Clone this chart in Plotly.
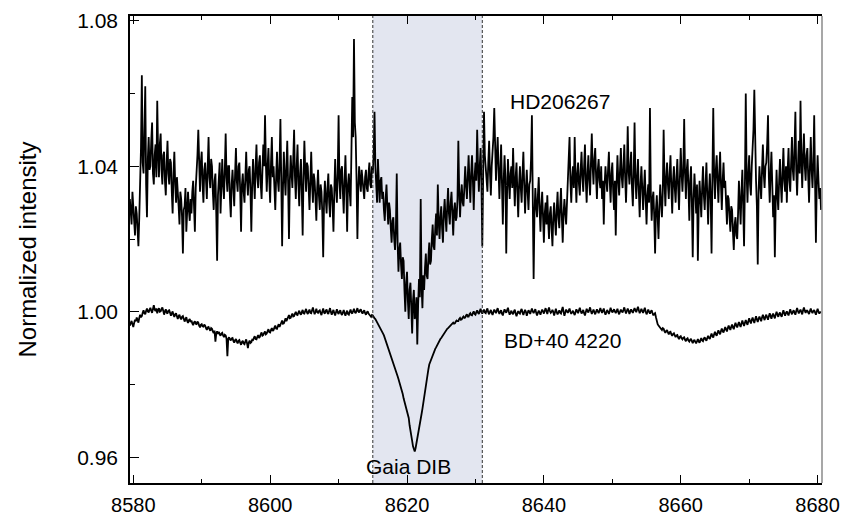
import numpy as np
import plotly.graph_objects as go

# wavelength grid (Angstrom), 0.125 A sampling
wave_start = 8579.5
wave_step = 0.125

# HD206267 normalized intensity, 8 samples per Angstrom starting at 8579.5
hd206267 = [
    1.031, 1.027, 1.024, 1.033, 1.030, 1.025, 1.021, 1.029,
    1.027, 1.022, 1.018, 1.026, 1.034, 1.045, 1.065, 1.041,
    1.038, 1.049, 1.062, 1.035, 1.026, 1.042, 1.048, 1.039,
    1.040, 1.047, 1.052, 1.038, 1.035, 1.043, 1.046, 1.037,
    1.058, 1.044, 1.037, 1.046, 1.049, 1.039, 1.035, 1.043,
    1.044, 1.036, 1.032, 1.041, 1.047, 1.038, 1.035, 1.042,
    1.041, 1.033, 1.027, 1.038, 1.044, 1.035, 1.030, 1.037,
    1.034, 1.029, 1.024, 1.033, 1.031, 1.026, 1.016, 1.028,
    1.029, 1.034, 1.022, 1.027, 1.033, 1.028, 1.025, 1.031,
    1.027, 1.033, 1.036, 1.029, 1.022, 1.034, 1.038, 1.043,
    1.050, 1.038, 1.033, 1.041, 1.044, 1.035, 1.030, 1.039,
    1.041, 1.036, 1.031, 1.040, 1.048, 1.037, 1.034, 1.042,
    1.040, 1.033, 1.028, 1.036, 1.038, 1.027, 1.014, 1.032,
    1.036, 1.041, 1.027, 1.034, 1.042, 1.035, 1.031, 1.039,
    1.049, 1.037, 1.033, 1.040, 1.040, 1.031, 1.026, 1.035,
    1.039, 1.034, 1.029, 1.038, 1.045, 1.036, 1.033, 1.040,
    1.041, 1.033, 1.022, 1.035, 1.038, 1.033, 1.030, 1.037,
    1.044, 1.036, 1.032, 1.039, 1.040, 1.033, 1.022, 1.035,
    1.042, 1.036, 1.031, 1.040, 1.046, 1.037, 1.034, 1.041,
    1.043, 1.035, 1.031, 1.039, 1.046, 1.040, 1.054, 1.041,
    1.033, 1.040, 1.045, 1.036, 1.030, 1.041, 1.048, 1.037,
    1.040, 1.034, 1.028, 1.037, 1.044, 1.036, 1.033, 1.041,
    1.053, 1.036, 1.018, 1.034, 1.044, 1.037, 1.032, 1.040,
    1.047, 1.035, 1.020, 1.036, 1.043, 1.038, 1.034, 1.042,
    1.050, 1.037, 1.031, 1.040, 1.046, 1.035, 1.029, 1.038,
    1.042, 1.033, 1.021, 1.037, 1.047, 1.039, 1.033, 1.041,
    1.040, 1.034, 1.028, 1.036, 1.044, 1.035, 1.030, 1.038,
    1.036, 1.031, 1.025, 1.034, 1.039, 1.032, 1.028, 1.035,
    1.033, 1.027, 1.015, 1.030, 1.036, 1.031, 1.027, 1.034,
    1.038, 1.030, 1.026, 1.035, 1.034, 1.029, 1.022, 1.033,
    1.042, 1.034, 1.030, 1.038, 1.054, 1.036, 1.031, 1.039,
    1.040, 1.033, 1.027, 1.036, 1.043, 1.034, 1.022, 1.035,
    1.038, 1.033, 1.029, 1.044, 1.059, 1.048, 1.075, 1.052,
    1.048, 1.036, 1.020, 1.034, 1.040, 1.036, 1.033, 1.039,
    1.036, 1.032, 1.031, 1.037, 1.039, 1.034, 1.033, 1.038,
    1.041, 1.035, 1.034, 1.040, 1.038, 1.043, 1.055, 1.040,
    1.036, 1.030, 1.042, 1.034, 1.030, 1.036, 1.037, 1.031,
    1.033, 1.028, 1.025, 1.031, 1.035, 1.029, 1.024, 1.030,
    1.028, 1.023, 1.019, 1.025, 1.026, 1.020, 1.017, 1.023,
    1.038, 1.019, 1.011, 1.017, 1.019, 1.013, 1.009, 1.015,
    1.014, 1.006, 1.000, 1.008, 1.011, 1.003, 0.998, 1.006,
    1.008, 1.001, 0.994, 1.003, 1.006, 0.998, 0.999, 1.004,
    0.991, 1.002, 1.009, 1.004, 1.031, 1.007, 1.001, 1.010,
    1.006, 1.012, 1.016, 1.010, 1.009, 1.015, 1.019, 1.013,
    1.014, 1.020, 1.024, 1.018, 1.017, 1.023, 1.027, 1.021,
    1.035, 1.025, 1.020, 1.026, 1.029, 1.023, 1.019, 1.027,
    1.031, 1.026, 1.022, 1.029, 1.034, 1.027, 1.024, 1.030,
    1.033, 1.027, 1.021, 1.028, 1.030, 1.025, 1.026, 1.031,
    1.047, 1.033, 1.026, 1.032, 1.035, 1.030, 1.029, 1.034,
    1.040, 1.035, 1.031, 1.037, 1.043, 1.036, 1.030, 1.038,
    1.043, 1.036, 1.028, 1.037, 1.041, 1.036, 1.050, 1.040,
    1.033, 1.040, 1.045, 1.036, 1.018, 1.037, 1.055, 1.043,
    1.040, 1.036, 1.033, 1.041, 1.047, 1.038, 1.032, 1.040,
    1.044, 1.048, 1.056, 1.042, 1.036, 1.043, 1.048, 1.039,
    1.031, 1.039, 1.046, 1.035, 1.024, 1.036, 1.043, 1.037,
    1.016, 1.033, 1.042, 1.036, 1.031, 1.038, 1.040, 1.034,
    1.045, 1.036, 1.029, 1.037, 1.041, 1.033, 1.026, 1.035,
    1.040, 1.034, 1.030, 1.038, 1.044, 1.035, 1.027, 1.034,
    1.039, 1.033, 1.028, 1.035, 1.036, 1.042, 1.054, 1.031,
    1.009, 1.027, 1.034, 1.029, 1.026, 1.032, 1.037, 1.028,
    1.022, 1.029, 1.033, 1.026, 1.019, 1.027, 1.030, 1.024,
    1.032, 1.025, 1.020, 1.027, 1.029, 1.023, 1.018, 1.026,
    1.030, 1.025, 1.021, 1.028, 1.033, 1.026, 1.023, 1.029,
    1.034, 1.026, 1.019, 1.027, 1.031, 1.027, 1.024, 1.030,
    1.036, 1.041, 1.048, 1.036, 1.030, 1.037, 1.040, 1.034,
    1.048, 1.037, 1.030, 1.038, 1.041, 1.035, 1.032, 1.039,
    1.044, 1.037, 1.033, 1.040, 1.046, 1.036, 1.030, 1.038,
    1.043, 1.036, 1.032, 1.041, 1.049, 1.040, 1.035, 1.042,
    1.045, 1.037, 1.031, 1.039, 1.042, 1.036, 1.034, 1.040,
    1.031, 1.036, 1.024, 1.035, 1.040, 1.036, 1.033, 1.039,
    1.044, 1.036, 1.030, 1.038, 1.041, 1.033, 1.028, 1.036,
    1.021, 1.035, 1.043, 1.036, 1.032, 1.039, 1.045, 1.037,
    1.034, 1.040, 1.046, 1.037, 1.030, 1.038, 1.051, 1.039,
    1.035, 1.040, 1.044, 1.034, 1.029, 1.038, 1.052, 1.037,
    1.031, 1.037, 1.042, 1.033, 1.026, 1.035, 1.040, 1.034,
    1.028, 1.034, 1.039, 1.031, 1.024, 1.032, 1.035, 1.030,
    1.056, 1.033, 1.025, 1.031, 1.033, 1.026, 1.016, 1.028,
    1.032, 1.026, 1.020, 1.029, 1.035, 1.030, 1.026, 1.033,
    1.050, 1.036, 1.029, 1.037, 1.041, 1.035, 1.031, 1.038,
    1.043, 1.034, 1.027, 1.036, 1.040, 1.034, 1.030, 1.037,
    1.042, 1.034, 1.028, 1.037, 1.045, 1.038, 1.033, 1.039,
    1.053, 1.038, 1.031, 1.039, 1.042, 1.034, 1.025, 1.036,
    1.040, 1.030, 1.015, 1.031, 1.038, 1.033, 1.027, 1.035,
    1.014, 1.029, 1.036, 1.031, 1.026, 1.034, 1.040, 1.032,
    1.028, 1.035, 1.041, 1.032, 1.024, 1.033, 1.038, 1.031,
    1.016, 1.037, 1.056, 1.038, 1.031, 1.039, 1.043, 1.036,
    1.030, 1.038, 1.044, 1.035, 1.028, 1.036, 1.041, 1.034,
    1.036, 1.030, 1.024, 1.032, 1.031, 1.026, 1.022, 1.029,
    1.028, 1.022, 1.017, 1.024, 1.026, 1.021, 1.020, 1.027,
    1.036, 1.030, 1.024, 1.033, 1.039, 1.029, 1.018, 1.035,
    1.060, 1.038, 1.030, 1.038, 1.043, 1.035, 1.032, 1.040,
    1.044, 1.050, 1.061, 1.041, 1.036, 1.029, 1.013, 1.033,
    1.040, 1.035, 1.031, 1.039, 1.046, 1.038, 1.034, 1.040,
    1.041, 1.046, 1.054, 1.037, 1.030, 1.038, 1.044, 1.035,
    1.026, 1.032, 1.015, 1.030, 1.039, 1.032, 1.028, 1.036,
    1.042, 1.035, 1.030, 1.038, 1.045, 1.036, 1.033, 1.040,
    1.030, 1.039, 1.045, 1.036, 1.033, 1.041, 1.048, 1.039,
    1.036, 1.045, 1.055, 1.039, 1.032, 1.040, 1.047, 1.038,
    1.058, 1.042, 1.034, 1.043, 1.049, 1.040, 1.036, 1.043,
    1.045, 1.037, 1.030, 1.040, 1.048, 1.039, 1.034, 1.041,
    1.054, 1.036, 1.019, 1.035, 1.043, 1.036, 1.031, 1.034,
    1.028,
]

# BD+40 4220 normalized intensity, same grid
bd404220 = [
    0.9962, 0.9970, 0.9975, 0.9966, 0.9958, 0.9969, 0.9978, 0.9974,
    0.9984, 0.9978, 0.9970, 0.9983, 0.9992, 0.9985, 0.9988, 0.9997,
    1.0004, 0.9996, 0.9993, 1.0003, 1.0009, 1.0001, 0.9998, 1.0006,
    1.0011, 1.0003, 0.9997, 1.0008, 1.0018, 1.0006, 1.0002, 1.0009,
    0.9996, 1.0005, 1.0010, 1.0000, 1.0001, 1.0008, 1.0012, 1.0003,
    0.9992, 1.0001, 1.0007, 0.9998, 0.9995, 1.0003, 1.0004, 0.9997,
    0.9989, 0.9996, 1.0001, 0.9991, 0.9986, 0.9993, 0.9996, 0.9988,
    0.9980, 0.9988, 0.9992, 0.9983, 0.9979, 0.9986, 0.9988, 0.9981,
    0.9973, 0.9980, 0.9985, 0.9975, 0.9969, 0.9977, 0.9980, 0.9972,
    0.9976, 0.9968, 0.9963, 0.9971, 0.9974, 0.9967, 0.9966, 0.9973,
    0.9970, 0.9962, 0.9957, 0.9964, 0.9966, 0.9960, 0.9959, 0.9965,
    0.9962, 0.9955, 0.9950, 0.9957, 0.9958, 0.9952, 0.9948, 0.9955,
    0.9953, 0.9946, 0.9941, 0.9948, 0.9918, 0.9940, 0.9946, 0.9939,
    0.9945, 0.9938, 0.9934, 0.9940, 0.9942, 0.9935, 0.9930, 0.9937,
    0.9935, 0.9926, 0.9878, 0.9925, 0.9930, 0.9924, 0.9921, 0.9927,
    0.9928, 0.9920, 0.9915, 0.9922, 0.9925, 0.9918, 0.9913, 0.9920,
    0.9922, 0.9915, 0.9909, 0.9917, 0.9920, 0.9913, 0.9911, 0.9918,
    0.9924, 0.9913, 0.9900, 0.9915, 0.9921, 0.9914, 0.9916, 0.9923,
    0.9922, 0.9928, 0.9933, 0.9925, 0.9924, 0.9931, 0.9936, 0.9928,
    0.9931, 0.9938, 0.9943, 0.9934, 0.9936, 0.9942, 0.9946, 0.9938,
    0.9940, 0.9947, 0.9952, 0.9944, 0.9943, 0.9950, 0.9955, 0.9947,
    0.9950, 0.9957, 0.9962, 0.9954, 0.9953, 0.9960, 0.9966, 0.9958,
    0.9963, 0.9970, 0.9976, 0.9967, 0.9968, 0.9975, 0.9982, 0.9974,
    0.9979, 0.9986, 0.9991, 0.9982, 0.9983, 0.9990, 0.9995, 0.9987,
    0.9988, 0.9995, 1.0000, 0.9992, 0.9991, 0.9998, 1.0003, 0.9995,
    0.9992, 0.9999, 1.0005, 0.9996, 0.9995, 1.0002, 1.0008, 0.9998,
    0.9994, 1.0001, 1.0006, 0.9997, 0.9996, 1.0004, 1.0012, 1.0001,
    0.9993, 1.0000, 1.0008, 0.9999, 0.9997, 1.0002, 1.0004, 0.9996,
    0.9991, 1.0001, 1.0009, 0.9998, 0.9995, 1.0003, 1.0006, 0.9997,
    0.9994, 1.0003, 1.0010, 0.9999, 0.9992, 1.0000, 1.0005, 0.9996,
    0.9990, 0.9999, 1.0007, 0.9998, 0.9994, 1.0001, 1.0004, 0.9995,
    0.9991, 0.9998, 1.0005, 0.9996, 0.9989, 0.9997, 1.0003, 0.9994,
    0.9992, 1.0000, 1.0006, 0.9998, 0.9995, 1.0002, 1.0008, 0.9999,
    0.9996, 1.0003, 1.0010, 1.0001, 0.9998, 1.0004, 1.0007, 0.9999,
    0.9995, 1.0001, 1.0004, 0.9996, 0.9992, 0.9998, 1.0001, 0.9995,
    0.9993, 0.9989, 0.9986, 0.9991, 0.9990, 0.9985, 0.9982, 0.9980,
    0.9976, 0.9971, 0.9965, 0.9963, 0.9960, 0.9954, 0.9950, 0.9946,
    0.9940, 0.9935, 0.9928, 0.9924, 0.9918, 0.9911, 0.9905, 0.9898,
    0.9890, 0.9884, 0.9876, 0.9870, 0.9862, 0.9857, 0.9850, 0.9840,
    0.9830, 0.9823, 0.9815, 0.9808, 0.9800, 0.9794, 0.9786, 0.9774,
    0.9762, 0.9754, 0.9745, 0.9736, 0.9727, 0.9718, 0.9708, 0.9688,
    0.9668, 0.9656, 0.9645, 0.9630, 0.9618, 0.9616, 0.9625, 0.9637,
    0.9650, 0.9664, 0.9678, 0.9692, 0.9705, 0.9719, 0.9733, 0.9750,
    0.9768, 0.9784, 0.9800, 0.9814, 0.9828, 0.9842, 0.9855, 0.9862,
    0.9868, 0.9876, 0.9882, 0.9888, 0.9893, 0.9898, 0.9902, 0.9907,
    0.9912, 0.9918, 0.9922, 0.9925, 0.9928, 0.9932, 0.9936, 0.9940,
    0.9944, 0.9949, 0.9952, 0.9953, 0.9955, 0.9958, 0.9961, 0.9963,
    0.9965, 0.9968, 0.9970, 0.9967, 0.9968, 0.9973, 0.9976, 0.9974,
    0.9974, 0.9980, 0.9983, 0.9978, 0.9979, 0.9984, 0.9987, 0.9983,
    0.9984, 0.9990, 0.9993, 0.9987, 0.9987, 0.9993, 0.9996, 0.9991,
    0.9990, 0.9997, 1.0001, 0.9994, 0.9992, 0.9999, 1.0004, 0.9997,
    0.9994, 1.0002, 1.0008, 0.9999, 0.9995, 1.0001, 1.0006, 0.9998,
    0.9996, 1.0004, 1.0009, 0.9998, 0.9993, 1.0000, 1.0005, 0.9997,
    0.9991, 0.9999, 1.0006, 1.0001, 0.9996, 1.0004, 1.0010, 1.0000,
    0.9994, 1.0000, 1.0004, 0.9995, 0.9990, 0.9999, 1.0007, 1.0001,
    0.9997, 1.0005, 1.0011, 1.0000, 0.9992, 0.9998, 1.0003, 0.9996,
    0.9993, 1.0001, 1.0006, 0.9995, 0.9988, 0.9996, 1.0002, 0.9997,
    0.9995, 1.0003, 1.0008, 0.9998, 0.9991, 0.9999, 1.0005, 1.0000,
    0.9989, 0.9997, 1.0004, 1.0000, 0.9994, 1.0002, 1.0009, 1.0001,
    0.9996, 1.0002, 1.0007, 0.9997, 0.9990, 0.9997, 1.0003, 0.9998,
    0.9992, 1.0000, 1.0006, 1.0001, 0.9995, 1.0003, 1.0010, 1.0002,
    0.9994, 1.0004, 1.0012, 1.0002, 0.9997, 1.0000, 1.0005, 0.9999,
    0.9990, 0.9999, 1.0008, 0.9999, 0.9993, 0.9998, 1.0004, 0.9997,
    0.9995, 1.0005, 1.0013, 1.0000, 0.9989, 0.9998, 1.0006, 1.0001,
    0.9997, 1.0003, 1.0009, 1.0000, 0.9994, 0.9999, 1.0003, 0.9996,
    0.9991, 0.9999, 1.0007, 1.0001, 0.9996, 1.0004, 1.0011, 1.0002,
    0.9995, 1.0000, 1.0005, 0.9996, 0.9990, 0.9999, 1.0008, 1.0002,
    0.9998, 1.0005, 1.0012, 1.0002, 0.9994, 1.0000, 1.0006, 0.9999,
    0.9993, 1.0000, 1.0007, 1.0001, 0.9996, 1.0003, 1.0010, 1.0003,
    0.9997, 1.0003, 1.0009, 0.9999, 0.9992, 0.9998, 1.0005, 1.0000,
    0.9994, 1.0002, 1.0011, 1.0003, 0.9998, 1.0002, 1.0007, 1.0001,
    0.9996, 1.0002, 1.0008, 0.9999, 0.9993, 1.0000, 1.0006, 1.0001,
    0.9998, 1.0005, 1.0012, 1.0003, 0.9995, 1.0002, 1.0009, 1.0003,
    0.9994, 1.0001, 1.0007, 1.0001, 0.9997, 1.0004, 1.0010, 1.0004,
    0.9999, 1.0007, 1.0014, 1.0004, 0.9996, 1.0002, 1.0008, 1.0002,
    0.9997, 1.0004, 1.0011, 1.0001, 0.9993, 0.9999, 1.0006, 1.0000,
    0.9995, 1.0001, 1.0004, 0.9996, 0.9990, 0.9994, 0.9996, 0.9985,
    0.9970, 0.9966, 0.9962, 0.9958, 0.9956, 0.9952, 0.9950, 0.9955,
    0.9953, 0.9946, 0.9942, 0.9947, 0.9950, 0.9943, 0.9938, 0.9944,
    0.9945, 0.9938, 0.9934, 0.9939, 0.9941, 0.9935, 0.9930, 0.9935,
    0.9936, 0.9929, 0.9925, 0.9931, 0.9933, 0.9927, 0.9924, 0.9929,
    0.9930, 0.9923, 0.9919, 0.9925, 0.9927, 0.9921, 0.9918, 0.9923,
    0.9926, 0.9919, 0.9914, 0.9920, 0.9923, 0.9917, 0.9913, 0.9919,
    0.9925, 0.9918, 0.9915, 0.9922, 0.9928, 0.9921, 0.9919, 0.9926,
    0.9930, 0.9924, 0.9920, 0.9928, 0.9934, 0.9928, 0.9925, 0.9933,
    0.9940, 0.9933, 0.9929, 0.9938, 0.9945, 0.9938, 0.9934, 0.9942,
    0.9949, 0.9942, 0.9938, 0.9947, 0.9954, 0.9947, 0.9943, 0.9951,
    0.9958, 0.9951, 0.9946, 0.9955, 0.9962, 0.9955, 0.9950, 0.9959,
    0.9965, 0.9957, 0.9952, 0.9962, 0.9970, 0.9962, 0.9957, 0.9965,
    0.9972, 0.9964, 0.9958, 0.9968, 0.9976, 0.9968, 0.9961, 0.9970,
    0.9977, 0.9970, 0.9964, 0.9974, 0.9982, 0.9974, 0.9968, 0.9977,
    0.9984, 0.9976, 0.9969, 0.9979, 0.9988, 0.9979, 0.9972, 0.9981,
    0.9987, 0.9980, 0.9974, 0.9984, 0.9992, 0.9984, 0.9977, 0.9986,
    0.9992, 0.9984, 0.9978, 0.9988, 0.9996, 0.9988, 0.9981, 0.9990,
    0.9995, 0.9988, 0.9982, 0.9992, 1.0000, 0.9992, 0.9986, 0.9994,
    0.9998, 0.9991, 0.9986, 0.9996, 1.0004, 0.9996, 0.9989, 0.9997,
    1.0001, 0.9995, 0.9990, 0.9999, 1.0007, 0.9999, 0.9993, 1.0000,
    1.0004, 0.9997, 0.9992, 1.0002, 1.0010, 1.0002, 0.9995, 1.0002,
    1.0006, 0.9999, 0.9993, 1.0004, 1.0012, 1.0003, 0.9997, 1.0003,
    1.0003, 0.9998, 0.9994, 1.0002, 1.0009, 1.0001, 0.9996, 1.0002,
    1.0005, 0.9998, 0.9992, 1.0001, 1.0008, 1.0000, 0.9995, 0.9999,
    0.9998,
]

wave = wave_start + wave_step * np.arange(len(hd206267))
wave_bd = wave_start + wave_step * np.arange(len(bd404220))

# Gaia DIB window
dib_window = [8615.0, 8631.0]

labels = {"hd": "HD206267", "bd": "BD+40 4220", "dib": "Gaia DIB"}
label_pos = {"hd": (8642.4, 1.0579), "bd": (8642.7, 0.9920), "dib": (8620.2, 0.9574)}

FONT = "Liberation Sans, Arial, sans-serif"

fig = go.Figure()
fig.add_trace(go.Scatter(x=wave, y=hd206267, mode="lines",
                         line=dict(color="black", width=1.8), showlegend=False))
fig.add_trace(go.Scatter(x=wave_bd, y=bd404220, mode="lines",
                         line=dict(color="black", width=1.8), showlegend=False))

fig.add_vrect(x0=dib_window[0], x1=dib_window[1], fillcolor="#e3e6f0",
              line_width=0, layer="below")
for xv in dib_window:
    fig.add_shape(type="line", x0=xv, x1=xv, y0=0, y1=1, xref="x", yref="paper",
                  line=dict(color="#333333", width=1, dash="3px,2px"))
# right frame line (grey)
fig.add_shape(type="line", x0=1, x1=1, y0=0, y1=1, xref="paper", yref="paper",
              line=dict(color="#8a8a8a", width=1.5))

for k, txt in labels.items():
    x, y = label_pos[k]
    fig.add_annotation(x=x, y=y, text=txt, showarrow=False,
                       font=dict(family=FONT, size=21, color="black"))

fig.update_layout(
    width=844, height=518,
    margin=dict(l=130, r=22, t=16, b=35),
    paper_bgcolor="white", plot_bgcolor="white",
    font=dict(family=FONT, color="black"),
)
fig.update_xaxes(
    range=[8579.52, 8680.64], tick0=8580, dtick=20,
    showgrid=False, zeroline=False, automargin=False,
    showline=True, linecolor="black", linewidth=1.5, mirror="ticks",
    ticks="inside", ticklen=8, tickwidth=1.2, tickcolor="black",
    tickfont=dict(family=FONT, size=20, color="black"),
    minor=dict(ticks="inside", ticklen=4, tickwidth=1, tickcolor="black", dtick=10, tick0=8580),
    ticklabelstandoff=3,
)
fig.update_yaxes(
    range=[0.95293, 1.0813], tick0=0.96, dtick=0.04, tickformat=".2f",
    showgrid=False, zeroline=False, automargin=False,
    showline=True, linecolor="black", linewidth=1.5,
    ticks="inside", ticklen=9, tickwidth=1.2, tickcolor="black",
    tickfont=dict(family=FONT, size=21, color="black"),
    minor=dict(ticks="inside", ticklen=5, tickwidth=1, tickcolor="black", dtick=0.02, tick0=0.96),
    ticklabelstandoff=6,
    title=dict(text="Normalized intensity", font=dict(family=FONT, size=24, color="black"), standoff=34),
)

fig.write_html("out.html")
